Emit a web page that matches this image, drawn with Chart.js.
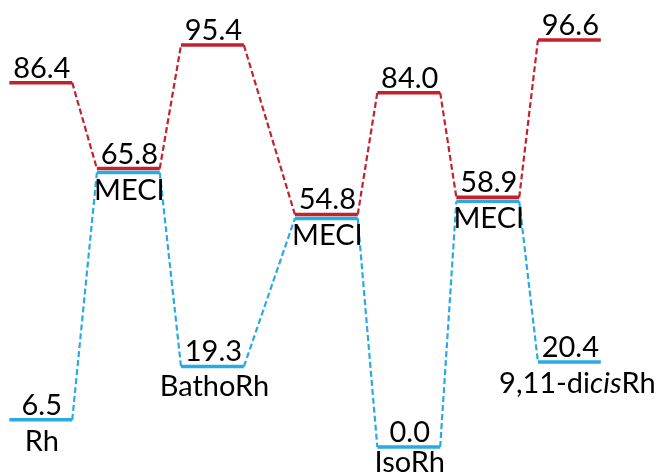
<!DOCTYPE html>
<html>
<head>
<meta charset="utf-8">
<script src="https://cdn.jsdelivr.net/npm/chart.js@4/dist/chart.umd.min.js"></script>
<style>
  html, body { margin: 0; padding: 0; background: #ffffff; }
  #wrap { position: relative; width: 662px; height: 475px; }
</style>
</head>
<body>
<div id="wrap"><canvas id="diagram"></canvas></div>
<script>
// Stationary points along the photo-isomerisation path, left to right
const stageNames = ['Rh', 'MECI', 'BathoRh', 'MECI', 'IsoRh', 'MECI', '9,11-di<i>cis</i>Rh'];
// Relative energies on the excited-state surface
const excitedEnergy = [86.4, 65.8, 95.4, 54.8, 84.0, 58.9, 96.6];
// Relative energies on the ground-state surface
const groundEnergy = [6.5, 65.8, 19.3, 54.8, 0.0, 58.9, 20.4];

// Layout: horizontal centre of each stage (x-axis units) and level half-width
const stageX = [0.48, 1.51, 2.50, 3.84, 4.81, 5.74, 6.70];
const halfWidth = 0.37;
// Distance from the ground level down to the baseline of each stage name
const nameDrop = [31, 27, 30, 27, 25, 27, 31];
// Horizontal nudge of each stage name, in pixels
const nameNudge = [0, 0, 1, 0, 0, 0, 7];

const RED = '#C1222D';
const BLUE = '#29ABE2';
const FONT_FAMILY = 'Lato, "Open Sans", sans-serif';
const FONT_SIZE = 29;
// Small vertical separation so coincident levels (MECI) show both colours
const surfaceShift = { excited: -2, ground: 2 };

function levelPoints(energies) {
  const pts = [];
  energies.forEach((e, i) => {
    pts.push({ x: stageX[i] - halfWidth, y: e });
    pts.push({ x: stageX[i] + halfWidth, y: e });
  });
  return pts;
}

function levelSet(energies, color, surface) {
  return {
    surface,
    data: levelPoints(energies),
    showLine: true,
    pointRadius: 0,
    borderWidth: 3.5,
    borderCapStyle: 'butt',
    borderColor: color,
    segment: {
      borderColor: ctx => (ctx.p0DataIndex % 2 === 0 ? color : 'rgba(0,0,0,0)')
    }
  };
}

function connectorSet(energies, color, surface) {
  return {
    surface,
    data: levelPoints(energies),
    showLine: true,
    pointRadius: 0,
    borderWidth: 2.2,
    borderDash: [6, 3],
    borderColor: color,
    segment: {
      borderColor: ctx => (ctx.p0DataIndex % 2 === 1 ? color : 'rgba(0,0,0,0)')
    }
  };
}

// Offsets each surface's drawing by its small vertical shift
const shiftPlugin = {
  id: 'surfaceShift',
  beforeDatasetDraw(chart, args) {
    const ds = chart.data.datasets[args.index];
    chart.ctx.save();
    chart.ctx.translate(0, surfaceShift[ds.surface] || 0);
  },
  afterDatasetDraw(chart) {
    chart.ctx.restore();
  }
};

function parseRich(text) {
  const parts = [];
  const re = /<i>(.*?)<\/i>/g;
  let last = 0, m;
  while ((m = re.exec(text)) !== null) {
    if (m.index > last) parts.push({ t: text.slice(last, m.index), italic: false });
    parts.push({ t: m[1], italic: true });
    last = re.lastIndex;
  }
  if (last < text.length) parts.push({ t: text.slice(last), italic: false });
  return parts;
}

function drawRich(ctx, text, cx, baseline) {
  const parts = parseRich(text);
  const fontFor = p => (p.italic ? 'italic ' : '') + FONT_SIZE + 'px ' + FONT_FAMILY;
  let total = 0;
  parts.forEach(p => { ctx.font = fontFor(p); p.w = ctx.measureText(p.t).width; total += p.w; });
  let x = cx - total / 2;
  ctx.textAlign = 'left';
  parts.forEach(p => { ctx.font = fontFor(p); ctx.fillText(p.t, x, baseline); x += p.w; });
}

// Energy values above the levels and stage names below the ground levels
const labelPlugin = {
  id: 'levelLabels',
  afterDatasetsDraw(chart) {
    const { ctx, scales: { x, y } } = chart;
    ctx.save();
    ctx.fillStyle = '#000000';
    ctx.textBaseline = 'alphabetic';
    stageNames.forEach((name, i) => {
      const cx = x.getPixelForValue(stageX[i]);
      const exY = y.getPixelForValue(excitedEnergy[i]) + surfaceShift.excited;
      const grY = y.getPixelForValue(groundEnergy[i]) + surfaceShift.ground;
      ctx.font = FONT_SIZE + 'px ' + FONT_FAMILY;
      ctx.textAlign = 'center';
      ctx.fillText(excitedEnergy[i].toFixed(1), cx + 1, exY - 5);
      if (excitedEnergy[i] !== groundEnergy[i]) {
        ctx.fillText(groundEnergy[i].toFixed(1), cx + 1, grY - 5);
      }
      drawRich(ctx, name, cx + 1 + nameNudge[i], grY + nameDrop[i]);
    });
    ctx.restore();
  }
};

function build() {
  new Chart(document.getElementById('diagram'), {
    type: 'scatter',
    data: {
      datasets: [
        connectorSet(groundEnergy, BLUE, 'ground'),
        connectorSet(excitedEnergy, RED, 'excited'),
        levelSet(groundEnergy, BLUE, 'ground'),
        levelSet(excitedEnergy, RED, 'excited')
      ]
    },
    options: {
      responsive: true,
      maintainAspectRatio: false,
      animation: false,
      layout: { padding: 0 },
      plugins: { legend: { display: false }, tooltip: { enabled: false } },
      events: [],
      scales: {
        x: { type: 'linear', display: false, min: 0, max: 7.79 },
        y: { type: 'linear', display: false, min: -7.2, max: 106.7 }
      }
    },
    plugins: [shiftPlugin, labelPlugin]
  });
}

if (document.fonts && document.fonts.load) {
  Promise.all([
    document.fonts.load(FONT_SIZE + 'px Lato'),
    document.fonts.load('italic ' + FONT_SIZE + 'px Lato')
  ]).then(build, build);
} else {
  build();
}
</script>
</body>
</html>
